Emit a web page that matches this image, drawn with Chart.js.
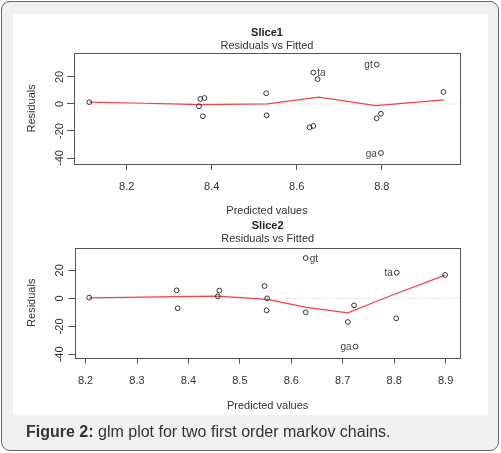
<!DOCTYPE html>
<html>
<head>
<meta charset="utf-8">
<script src="https://cdn.jsdelivr.net/npm/chart.js@4.4.1/dist/chart.umd.min.js"></script>
<style>
  html, body { margin: 0; padding: 0; background: #fff; }
  #card {
    position: absolute; left: 1px; top: 1px; width: 496px; height: 448px;
    background: #f1f1f1; border: 1.5px solid #666; border-radius: 9px;
  }
  #plotbg { position: absolute; left: 13px; top: 14px; width: 475px; height: 401px; background: #fff; }
  canvas { position: absolute; left: 0; }
  #c1 { top: 14px; }
  #c2 { top: 207px; }
  #caption {
    position: absolute; left: 26px; top: 423px;
    font: 16px "Liberation Sans", Arial, sans-serif; color: #333; white-space: nowrap;
  }
</style>
</head>
<body>
<div id="card"></div>
<div id="plotbg"></div>
<canvas id="c1" width="501" height="206"></canvas>
<canvas id="c2" width="501" height="210"></canvas>
<div id="caption"><b>Figure 2:</b> glm plot for two first order markov chains.</div>
<script>
// Slice1: fitted values, residuals, labelled outliers, smoother
const slice1Fitted = [8.112, 8.370, 8.373, 8.383, 8.379, 8.528, 8.529, 8.630, 8.639, 8.639, 8.649, 8.788, 8.788, 8.798, 8.798, 8.945];
const slice1Resid  = [1.3, -1.7, 3.7, 4.4, -9.1, 7.9, -8.4, -17.3, -16.3, 23.2, 18.3, 29.1, -10.6, -7.2, -36.3, 8.9];
const slice1Labels = ["", "", "", "", "", "", "", "", "", "ta", "", "gt", "", "", "ga", ""];
const slice1SmoothX = [8.112, 8.241, 8.327, 8.374, 8.531, 8.652, 8.786, 8.946];
const slice1SmoothY = [1.3, 0.5, -0.2, -0.5, 0.0, 5.0, -1.2, 3.0];
const slice1XTicks = [8.2, 8.4, 8.6, 8.8];

// Slice2
const slice2Fitted = [8.207, 8.377, 8.379, 8.457, 8.460, 8.548, 8.553, 8.552, 8.628, 8.628, 8.710, 8.722, 8.725, 8.804, 8.805, 8.899];
const slice2Resid  = [0.5, 5.7, -7.1, 1.4, 5.5, 8.8, 0.0, -8.6, -10.0, 28.8, -16.9, -5.0, -34.5, -14.3, 18.3, 16.7];
const slice2Labels = ["", "", "", "", "", "", "", "", "", "gt", "", "", "ga", "", "ta", ""];
const slice2SmoothX = [8.207, 8.378, 8.457, 8.554, 8.629, 8.710, 8.788, 8.899];
const slice2SmoothY = [0.4, 1.2, 1.6, -0.7, -6.4, -10.3, 1.1, 16.6];
const slice2XTicks = [8.2, 8.3, 8.4, 8.5, 8.6, 8.7, 8.8, 8.9];

const yTicks = [-40, -20, 0, 20];

Chart.defaults.font.family = '"Liberation Sans", Arial, sans-serif';
Chart.defaults.font.size = 11;
Chart.defaults.color = "#333";

// R style frame, rotated y labels and point ids
const rFrame = {
  id: "rFrame",
  afterDraw(chart, args, opts) {
    const { ctx, chartArea: a } = chart;
    const ys = chart.scales.y;
    ctx.save();
    ctx.strokeStyle = "#555";
    ctx.lineWidth = 1;
    ctx.strokeRect(Math.round(a.left) + 0.5, Math.round(a.top) + 0.5,
      Math.round(a.right - a.left), Math.round(a.bottom - a.top));
    ctx.fillStyle = "#333";
    ctx.font = '11px "Liberation Sans", Arial, sans-serif';
    ctx.textAlign = "center";
    ctx.textBaseline = "middle";
    ys.ticks.forEach((t) => {
      ctx.save();
      ctx.translate(60, ys.getPixelForValue(t.value));
      ctx.rotate(-Math.PI / 2);
      ctx.fillText(String(t.value), 0, 0);
      ctx.restore();
    });
    const meta = chart.getDatasetMeta(0);
    ctx.font = '10px "Liberation Sans", Arial, sans-serif';
    ctx.fillStyle = "#444";
    opts.labels.forEach((lab, i) => {
      if (!lab) return;
      const p = meta.data[i];
      const side = opts.sides[lab];
      ctx.textAlign = side === "right" ? "left" : "right";
      ctx.fillText(lab, p.x + (side === "right" ? 4 : -4), p.y + 1);
    });
    ctx.restore();
  },
};

function makePanel(id, title, fitted, resid, labels, sx, sy, xTicks, xr, yr, sides, geo) {
  return new Chart(document.getElementById(id), {
    type: "scatter",
    data: {
      datasets: [
        {
          data: fitted.map((x, i) => ({ x: x, y: resid[i] })),
          pointStyle: "circle",
          pointRadius: 2.4,
          pointBorderWidth: 1,
          pointBorderColor: "#333",
          pointBackgroundColor: "rgba(0,0,0,0)",
        },
        {
          data: sx.map((x, i) => ({ x: x, y: sy[i] })),
          showLine: true,
          borderColor: "#f04444",
          borderWidth: 1.2,
          pointRadius: 0,
          tension: 0,
        },
        {
          data: [{ x: xr[0], y: 0 }, { x: xr[1], y: 0 }],
          showLine: true,
          borderColor: "#c8c8c8",
          borderWidth: 1,
          borderDash: [1, 2],
          pointRadius: 0,
        },
      ],
    },
    options: {
      responsive: false,
      animation: false,
      events: [],
      layout: { padding: { left: 0, right: 41, top: 12.4, bottom: 0 } },
      plugins: {
        legend: { display: false },
        tooltip: { enabled: false },
        title: {
          display: true, text: title, fullSize: false, color: "#222",
          font: { size: 11, weight: "bold" }, padding: { top: 0, bottom: 0 },
        },
        subtitle: {
          display: true, text: "Residuals vs Fitted", fullSize: false, color: "#333",
          font: { size: 11 }, padding: { top: 0, bottom: geo.subPad },
        },
        rFrame: { labels: labels, sides: sides },
      },
      scales: {
        x: {
          type: "linear", min: xr[0], max: xr[1],
          afterBuildTicks: (s) => { s.ticks = xTicks.map((v) => ({ value: v })); },
          afterFit: (s) => { s.height = geo.xH; },
          ticks: { autoSkip: false, padding: geo.xTickPad, maxRotation: 0, callback: (v) => v.toFixed(1) },
          grid: { drawOnChartArea: false, drawTicks: true, tickLength: 6, color: "#555" },
          border: { display: false },
          title: { display: true, text: "Predicted values", padding: { top: 0, bottom: geo.xTitlePad } },
        },
        y: {
          type: "linear", min: yr[0], max: yr[1],
          afterBuildTicks: (s) => { s.ticks = yTicks.map((v) => ({ value: v })); },
          afterFit: (s) => { s.width = geo.yW; },
          ticks: { autoSkip: false, color: "rgba(0,0,0,0)" },
          grid: { drawOnChartArea: false, drawTicks: true, tickLength: 7, color: "#555" },
          border: { display: false },
          title: { display: true, text: "Residuals", padding: { top: 25, bottom: 0 } },
        },
      },
    },
    plugins: [rFrame],
  });
}

makePanel("c1", "Slice1", slice1Fitted, slice1Resid, slice1Labels, slice1SmoothX, slice1SmoothY,
  slice1XTicks, [8.076, 8.984], [-44.4, 37.8], { ta: "right", gt: "left", ga: "left" },
  { subPad: 0, xH: 56, xTickPad: 10, xTitlePad: 2.4, yW: 74 });

makePanel("c2", "Slice2", slice2Fitted, slice2Resid, slice2Labels, slice2SmoothX, slice2SmoothY,
  slice2XTicks, [8.180, 8.928], [-42.4, 36.1], { gt: "right", ta: "left", ga: "left" },
  { subPad: 2, xH: 59.3, xTickPad: 11, xTitlePad: 4.7, yW: 75.3 });
</script>
</body>
</html>
